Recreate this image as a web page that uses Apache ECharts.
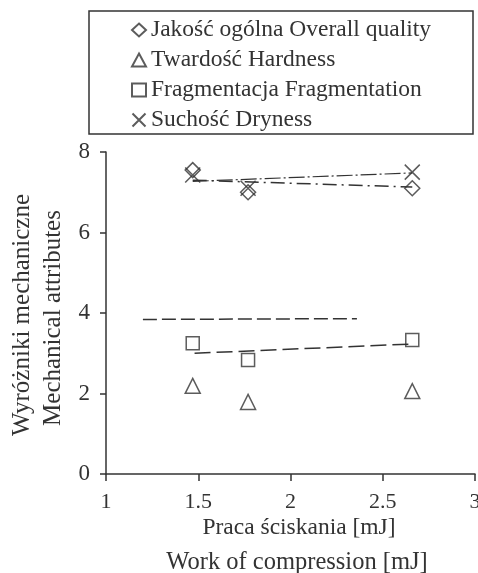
<!DOCTYPE html>
<html>
<head>
<meta charset="utf-8">
<script src="https://cdn.jsdelivr.net/npm/echarts@6/dist/echarts.min.js"></script>
<style>html,body{margin:0;padding:0;background:#fff;}#c{width:478px;height:573px;}</style>
</head>
<body>
<div id="c"></div>
<script>
const seriesNames = ['Jakość ogólna Overall quality', 'Twardość Hardness', 'Fragmentacja Fragmentation', 'Suchość Dryness'];
const xValues = [1.47, 1.77, 2.66];
const quality = [7.55, 7.0, 7.1];
const hardness = [2.19, 1.79, 2.06];
const fragmentation = [3.25, 2.83, 3.33];
const dryness = [7.43, 7.1, 7.5];

const qualityTrendX = [1.47, 2.66];
const qualityTrendY = [7.3, 7.13];
const drynessTrendX = [1.47, 2.66];
const drynessTrendY = [7.27, 7.48];
const fragTrendX = [1.48, 2.66];
const fragTrendY = [3.0, 3.23];
const hardTrendX = [1.2, 2.36];
const hardTrendY = [3.84, 3.86];

const xTicks = [1, 1.5, 2, 2.5, 3];
const yTicks = [0, 2, 4, 6, 8];

const FONT = 'Liberation Serif';
const INK = '#333';

const zip = (xs, ys) => xs.map((x, i) => [x, ys[i]]);

const symbols = ['diamond', 'triangle', 'rect', 'path://M0,0L10,10M10,0L0,10'];
const sizes = [15, 15, 13, 15];
const values = [quality, hardness, fragmentation, dryness];

const scatterSeries = seriesNames.map((n, i) => ({
  name: n,
  type: 'scatter',
  data: zip(xValues, values[i]),
  symbol: symbols[i],
  symbolSize: sizes[i],
  itemStyle: { color: 'rgba(255,255,255,0)', borderColor: INK, borderWidth: 1.5 },
  z: 5
}));

function trend(name, xs, ys, dash, width) {
  return {
    name: name, type: 'line', data: zip(xs, ys), showSymbol: false, symbol: 'none',
    silent: true, z: 3,
    lineStyle: { color: INK, width: width, type: dash }
  };
}

const chart = echarts.init(document.getElementById('c'));
chart.setOption({
  animation: false,
  backgroundColor: '#fff',
  grid: { left: 106, right: 3, top: 152, bottom: 99, containLabel: false, outerBoundsMode: 'none' },
  xAxis: {
    type: 'value', min: xTicks[0], max: xTicks[xTicks.length - 1], interval: 0.5,
    splitLine: { show: false },
    axisLine: { lineStyle: { color: INK, width: 1.5 } },
    axisTick: { show: true, inside: false, length: 7, lineStyle: { color: INK, width: 1.5 } },
    axisLabel: { fontFamily: FONT, fontSize: 22, color: INK, margin: 17 }
  },
  yAxis: {
    type: 'value', min: yTicks[0], max: yTicks[yTicks.length - 1], interval: 2,
    splitLine: { show: false },
    axisLine: { show: true, lineStyle: { color: INK, width: 1.5 } },
    axisTick: { show: true, inside: false, length: 6, lineStyle: { color: INK, width: 1.5 } },
    axisLabel: { fontFamily: FONT, fontSize: 23, color: INK, margin: 16 }
  },
  legend: {
    data: seriesNames,
    orient: 'vertical',
    left: 126, top: 13,
    itemWidth: 14, itemHeight: 13, itemGap: 6,
    textStyle: { fontFamily: FONT, fontSize: 23.5, color: INK, lineHeight: 24 },
    selectedMode: false
  },
  graphic: [
    { type: 'rect', shape: { x: 89, y: 11, width: 384, height: 123 }, style: { fill: 'none', stroke: INK, lineWidth: 1.5 }, silent: true },
    { type: 'text', x: 22, y: 315, rotation: Math.PI / 2, style: { text: 'Wyróżniki mechaniczne', font: '25px "Liberation Serif"', fill: INK, textAlign: 'center', textVerticalAlign: 'middle' } },
    { type: 'text', x: 53, y: 318, rotation: Math.PI / 2, style: { text: 'Mechanical attributes', font: '25px "Liberation Serif"', fill: INK, textAlign: 'center', textVerticalAlign: 'middle' } },
    { type: 'text', x: 299, y: 528, style: { text: 'Praca ściskania [mJ]', font: '23.5px "Liberation Serif"', fill: INK, textAlign: 'center', textVerticalAlign: 'middle' } },
    { type: 'text', x: 297, y: 563, style: { text: 'Work of compression [mJ]', font: '24.5px "Liberation Serif"', fill: INK, textAlign: 'center', textVerticalAlign: 'middle' } }
  ],
  series: scatterSeries.concat([
    trend('Trend quality', qualityTrendX, qualityTrendY, [14, 5, 2, 5], 1.5),
    trend('Trend dryness', drynessTrendX, drynessTrendY, [16, 3, 2, 3], 1.2),
    trend('Trend fragmentation', fragTrendX, fragTrendY, [16, 6], 1.5),
    trend('Trend hardness', hardTrendX, hardTrendY, [14, 5], 1.5)
  ])
});
</script>
</body>
</html>
